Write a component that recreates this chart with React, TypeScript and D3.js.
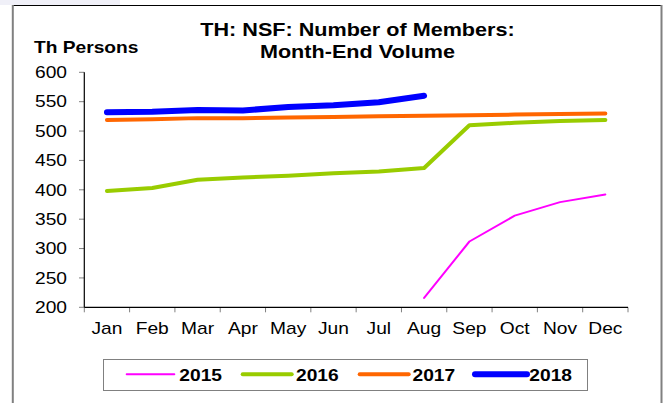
import React from "react";
import * as d3 from "d3";

const months = ["Jan", "Feb", "Mar", "Apr", "May", "Jun", "Jul", "Aug", "Sep", "Oct", "Nov", "Dec"];
const yTicks = [200, 250, 300, 350, 400, 450, 500, 550, 600];
const s2015: (number | null)[] = [null, null, null, null, null, null, null, 216, 312, 356, 379, 392];
const s2016: (number | null)[] = [398, 403, 417, 421, 424, 428, 431, 437, 510, 514, 517, 519];
const s2017: (number | null)[] = [519, 520, 522, 522, 523, 524, 525, 526, 527, 528, 529, 530];
const s2018: (number | null)[] = [532, 533, 536, 535, 541, 544, 549, 560, null, null, null, null];

const seriesNames = ["2015", "2016", "2017", "2018"];
const seriesData = [s2015, s2016, s2017, s2018];
const colors = ["#ff00ff", "#99cc00", "#ff6600", "#0000ff"];
const widths = [2, 4, 4, 6];

const SX = 1.2;
const font = "'Liberation Sans', Arial, sans-serif";

function T({ x, y, anchor = "start", size = 16, bold = false, children }: any) {
  return (
    <text
      transform={`translate(${x},${y}) scale(${SX},1)`}
      textAnchor={anchor}
      fontSize={size}
      fontWeight={bold ? "bold" : "normal"}
      fontFamily={font}
      fill="#000"
    >
      {children}
    </text>
  );
}

export default function App() {
  const left = 84.3, right = 628, top = 72.3, bottom = 307.3;
  const x = d3.scaleBand<string>().domain(months).range([left, right]);
  const y = d3.scaleLinear().domain([200, 600]).range([bottom, top]);
  const line = d3
    .line<number | null>()
    .defined((d) => d != null)
    .x((_, i) => (x(months[i]) as number) + x.bandwidth() / 2)
    .y((d) => y(d as number));

  const legendLines = [
    [126.7, 174.3, 179.3],
    [242.7, 291.7, 296],
    [359.7, 408.7, 412.5],
    [475, 527, 529.3],
  ];

  return (
    <svg width={669} height={403} style={{ position: "absolute", left: 0, top: 0, background: "#fff" }}>
      <rect x={0} y={0} width={669} height={403} fill="#fff" />
      <rect x={0} y={0} width={120} height={5} fill="#f0f0f8" />
      <line x1={12} x2={662} y1={5.5} y2={5.5} stroke="#000" strokeWidth={1} />
      <line x1={12.8} x2={12.8} y1={5} y2={403} stroke="#808080" strokeWidth={2} />
      <line x1={661.5} x2={661.5} y1={5} y2={403} stroke="#808080" strokeWidth={2} />

      <T x={357.5} y={36} anchor="middle" size={18} bold>TH: NSF: Number of Members:</T>
      <T x={357.5} y={57.5} anchor="middle" size={18} bold>Month-End Volume</T>
      <T x={34} y={53.3} size={16} bold>Th Persons</T>

      {yTicks.map((t) => (
        <g key={t}>
          <line x1={79} x2={left} y1={y(t)} y2={y(t)} stroke="#808080" strokeWidth={1} />
          <T x={67} y={y(t) + 5.8} anchor="end" size={16}>{t}</T>
        </g>
      ))}
      {d3.range(13).map((i) => {
        const xx = left + i * x.step();
        return <line key={i} x1={xx} x2={xx} y1={bottom} y2={bottom + 5} stroke="#808080" strokeWidth={1} />;
      })}
      {months.map((m) => (
        <T key={m} x={(x(m) as number) + x.bandwidth() / 2} y={333.5} anchor="middle" size={16}>{m}</T>
      ))}
      <line x1={left} x2={left} y1={top} y2={bottom} stroke="#000" strokeWidth={1.2} />
      <line x1={left} x2={right} y1={bottom} y2={bottom} stroke="#000" strokeWidth={1.2} />

      {seriesData.map((s, i) => (
        <path
          key={i}
          d={line(s) || ""}
          fill="none"
          stroke={colors[i]}
          strokeWidth={widths[i]}
          strokeLinecap="round"
          strokeLinejoin="round"
        />
      ))}

      <rect x={103.5} y={359.5} width={484} height={31} fill="#fff" stroke="#808080" strokeWidth={1} />
      {seriesNames.map((n, i) => (
        <g key={n}>
          <line
            x1={legendLines[i][0]}
            x2={legendLines[i][1]}
            y1={374.3}
            y2={374.3}
            stroke={colors[i]}
            strokeWidth={widths[i]}
            strokeLinecap="round"
          />
          <T x={legendLines[i][2]} y={380.5} size={16} bold>{n}</T>
        </g>
      ))}
    </svg>
  );
}
